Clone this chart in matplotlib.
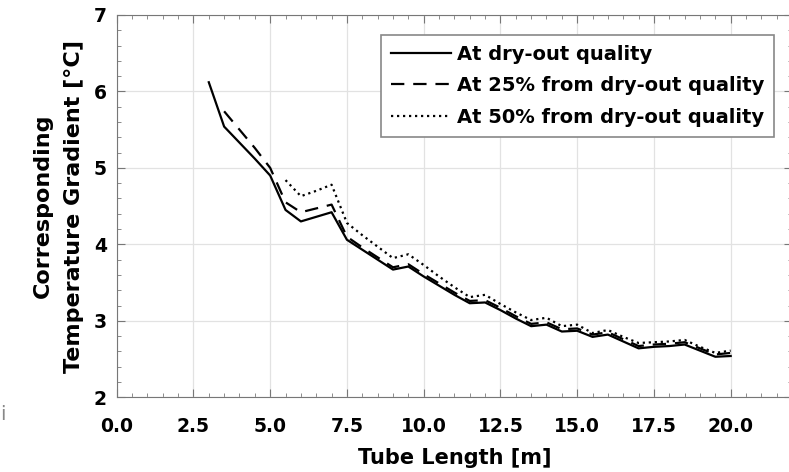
import matplotlib
matplotlib.use("Agg")
import matplotlib.pyplot as plt
from matplotlib.ticker import MultipleLocator, FormatStrFormatter

plt.rcParams['font.family'] = ['DejaVu Sans']
plt.rcParams['font.weight'] = 'bold'

# tube length [m] and temperature gradient [C]
x_dry = [3, 3.5, 4, 4.5, 5, 5.5, 6, 6.5, 7, 7.5, 8, 8.5, 9, 9.5, 10, 10.5, 11, 11.5,
         12, 12.5, 13, 13.5, 14, 14.5, 15, 15.5, 16, 16.5, 17, 17.5, 18, 18.5, 19, 19.5, 20]
y_dry = [6.12, 5.54, 5.33, 5.12, 4.90, 4.45, 4.30, 4.36, 4.42, 4.06, 3.93, 3.80, 3.67, 3.71,
         3.58, 3.46, 3.34, 3.23, 3.24, 3.14, 3.03, 2.93, 2.95, 2.86, 2.87, 2.79, 2.82, 2.73,
         2.64, 2.66, 2.67, 2.69, 2.61, 2.53, 2.54]

x_25 = [3.5, 4, 4.5, 5, 5.5, 6, 6.5, 7, 7.5, 8, 8.5, 9, 9.5, 10, 10.5, 11, 11.5,
        12, 12.5, 13, 13.5, 14, 14.5, 15, 15.5, 16, 16.5, 17, 17.5, 18, 18.5, 19, 19.5, 20]
y_25 = [5.74, 5.50, 5.26, 5.00, 4.55, 4.42, 4.47, 4.52, 4.10, 3.96, 3.83, 3.70, 3.74,
        3.61, 3.49, 3.37, 3.26, 3.27, 3.17, 3.06, 2.96, 2.98, 2.89, 2.90, 2.82, 2.85, 2.76,
        2.67, 2.69, 2.70, 2.72, 2.64, 2.56, 2.58]

x_50 = [5.5, 6, 6.5, 7, 7.5, 8, 8.5, 9, 9.5, 10, 10.5, 11, 11.5,
        12, 12.5, 13, 13.5, 14, 14.5, 15, 15.5, 16, 16.5, 17, 17.5, 18, 18.5, 19, 19.5, 20]
y_50 = [4.84, 4.63, 4.70, 4.78, 4.28, 4.12, 3.97, 3.82, 3.87, 3.73, 3.58, 3.44, 3.31,
        3.34, 3.22, 3.11, 3.01, 3.04, 2.93, 2.95, 2.84, 2.88, 2.79, 2.71, 2.72, 2.73, 2.75,
        2.66, 2.58, 2.61]

labels = ['At dry-out quality', 'At 25% from dry-out quality', 'At 50% from dry-out quality']

fig = plt.figure(figsize=(7.89, 4.72), dpi=100)
ax = fig.add_axes([0.1479, 0.1583, 0.856, 0.81])

ax.plot(x_dry, y_dry, color='black', linestyle='-', linewidth=1.6, label=labels[0])
ax.plot(x_25, y_25, color='black', linestyle=(0, (6, 4)), linewidth=1.6, label=labels[1])
ax.plot(x_50, y_50, color='black', linestyle=(0, (1, 1.7)), linewidth=1.6, label=labels[2])

ax.set_xlim(0, 22)
ax.set_ylim(2, 7)
ax.xaxis.set_major_locator(MultipleLocator(2.5))
ax.xaxis.set_minor_locator(MultipleLocator(0.5))
ax.yaxis.set_major_locator(MultipleLocator(1))
ax.yaxis.set_minor_locator(MultipleLocator(0.2))
ax.xaxis.set_major_formatter(FormatStrFormatter('%.1f'))

ax.tick_params(which='both', direction='in', top=True, right=True, color='#777777')
ax.tick_params(which='major', length=6, labelsize=13.5)
ax.tick_params(which='minor', length=3)
ax.tick_params(axis='x', pad=14)
ax.tick_params(axis='y', pad=7)
for s in ax.spines.values():
    s.set_color('#777777')
ax.grid(which='major', color='#e2e2e2', linewidth=0.9)

ax.set_xlabel('Tube Length [m]', fontsize=15, fontweight='bold', labelpad=9)
ax.set_ylabel('Corresponding\nTemperature Gradient [\u00b0C]', fontsize=16,
              fontweight='bold', linespacing=1.7)
ax.yaxis.set_label_coords(-0.048, 0.5)

leg = ax.legend(loc='upper right', bbox_to_anchor=(0.973, 0.948), borderaxespad=0,
                fontsize=14, handlelength=3.1, handletextpad=0.3, labelspacing=0.65,
                fancybox=False, framealpha=1, borderpad=0.5)
leg.get_frame().set_edgecolor('#888888')
leg.get_frame().set_linewidth(1.2)

fig.text(0.0, 0.11, 'i', fontsize=14, color='#888888', fontweight='normal')

fig.savefig('out.png', dpi=100)
